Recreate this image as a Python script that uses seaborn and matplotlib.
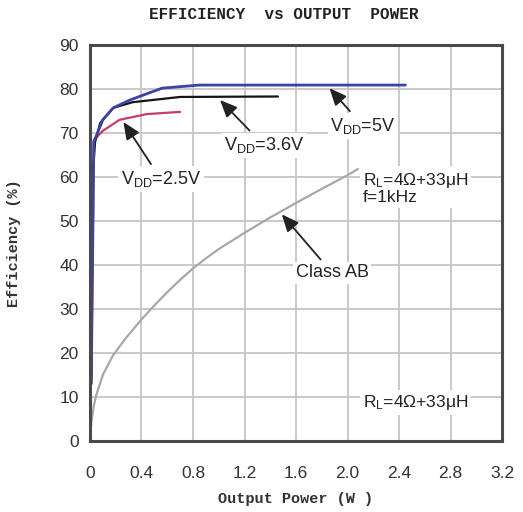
import matplotlib
matplotlib.use("Agg")
import matplotlib.pyplot as plt
import seaborn as sns
import pandas as pd

# Data
p_5v = [0.01, 0.03, 0.10, 0.18, 0.31, 0.56, 0.85, 2.45]
e_5v = [13, 68, 73, 75.7, 77.5, 80.2, 80.9, 80.9]
p_36v = [0.01, 0.02, 0.04, 0.08, 0.18, 0.33, 0.70, 1.46]
e_36v = [14, 60, 68, 72.3, 75.7, 77.0, 78.2, 78.3]
p_25v = [0.01, 0.03, 0.10, 0.23, 0.44, 0.70]
e_25v = [13, 68.4, 70.5, 73.0, 74.3, 74.8]
p_ab = [0.0, 0.01, 0.03, 0.05, 0.10, 0.18, 0.28, 0.40, 0.50, 0.60, 0.70, 0.80, 0.90, 1.00, 1.20, 1.40, 1.60, 1.80, 2.00, 2.08]
e_ab = [0, 4, 8, 10.5, 15, 19.5, 23.4, 27.6, 30.8, 33.8, 36.6, 39.2, 41.5, 43.6, 47.3, 50.8, 54.1, 57.3, 60.4, 61.8]

xticks = [0, 0.4, 0.8, 1.2, 1.6, 2.0, 2.4, 2.8, 3.2]
xtick_labels = ["0", "0.4", "0.8", "1.2", "1.6", "2.0", "2.4", "2.8", "3.2"]
yticks = [0, 10, 20, 30, 40, 50, 60, 70, 80, 90]

sns.set_style("white")
plt.rcParams['font.family'] = ['Liberation Sans', 'DejaVu Sans']
plt.rcParams['mathtext.default'] = 'regular'

fig = plt.figure(figsize=(5.23, 5.12), dpi=100)
ax = fig.add_axes([0.172, 0.139, 0.788, 0.773])

def df(x, y):
    return pd.DataFrame({"P": x, "E": y})

sns.lineplot(data=df(p_ab, e_ab), x="P", y="E", ax=ax, color="#a8a8a8", lw=1.6, sort=False)
sns.lineplot(data=df(p_25v, e_25v), x="P", y="E", ax=ax, color="#c83a6e", lw=1.6, sort=False)
sns.lineplot(data=df(p_36v, e_36v), x="P", y="E", ax=ax, color="#151515", lw=1.6, sort=False)
sns.lineplot(data=df(p_5v, e_5v), x="P", y="E", ax=ax, color="#3844a6", lw=2.0, sort=False)

ax.set_xlim(0, 3.2)
ax.set_ylim(0, 90)
ax.set_xticks(xticks)
ax.set_xticklabels(xtick_labels)
ax.set_yticks(yticks)
ax.grid(True, color="#c6c6c6", lw=1.3)
ax.set_axisbelow(True)
for s in ax.spines.values():
    s.set_color("#4a4a4a")
    s.set_linewidth(2.2)
ax.tick_params(axis='both', labelsize=12.5, colors="#333333", length=0)
ax.tick_params(axis='x', pad=18)
ax.tick_params(axis='y', pad=8)

mono = ["Liberation Mono", "DejaVu Sans Mono"]
ax.set_xlabel("Output Power (W )", family=mono, fontsize=11, weight="bold", color="#333333", labelpad=8)
ax.set_ylabel("Efficiency (%)", family=mono, fontsize=11, weight="bold", color="#333333", labelpad=28)
fig.text(0.542, 0.972, "EFFICIENCY  vs OUTPUT  POWER", ha="center", va="center",
         family=mono, fontsize=11.5, weight="bold", color="#222222")

bbox = dict(boxstyle="square,pad=0.15", fc="white", ec="none")
arrow = dict(arrowstyle="-|>,head_length=0.8,head_width=0.35", color="#222222", lw=1.3, shrinkA=2, shrinkB=0)

ax.annotate(r"V$_{DD}$=2.5V", xy=(0.26, 72.5), xytext=(0.55, 59.5), ha="center", va="center",
            fontsize=13, color="#222222", bbox=bbox, arrowprops=arrow)
ax.annotate(r"V$_{DD}$=3.6V", xy=(1.01, 77.5), xytext=(1.35, 67.2), ha="center", va="center",
            fontsize=13, color="#222222", bbox=bbox, arrowprops=arrow)
ax.annotate(r"V$_{DD}$=5V", xy=(1.86, 80.2), xytext=(2.12, 71.6), ha="center", va="center",
            fontsize=13, color="#222222", bbox=bbox, arrowprops=arrow)
ax.annotate("Class AB", xy=(1.49, 51.5), xytext=(1.88, 38.2), ha="center", va="center",
            fontsize=13, color="#222222", bbox=bbox, arrowprops=arrow)
ax.text(2.12, 57.5, "R$_{L}$=4\u03a9+33\u03bcH\nf=1kHz", ha="left", va="center", linespacing=1.05,
        fontsize=12.5, color="#222222", bbox=bbox)
ax.text(2.12, 8.7, "R$_{L}$=4\u03a9+33\u03bcH", ha="left", va="center",
        fontsize=12.5, color="#222222", bbox=bbox)

fig.savefig("out.png", dpi=100)
